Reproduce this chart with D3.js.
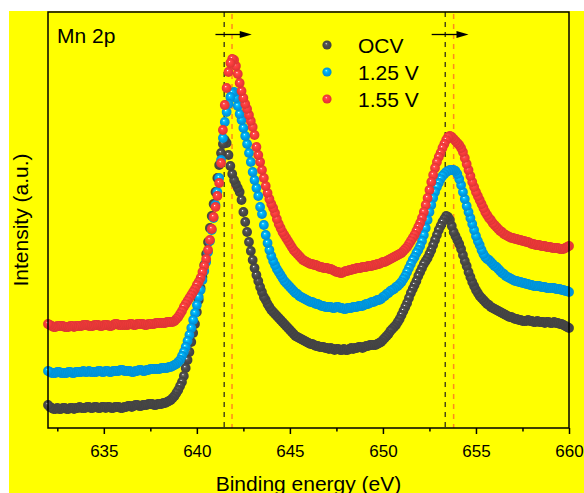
<!DOCTYPE html>
<html><head><meta charset="utf-8">
<script src="https://cdn.jsdelivr.net/npm/d3@7"></script>
<style>
html,body{margin:0;padding:0;background:#fff;}
svg{display:block;font-family:"Liberation Sans",Arial,sans-serif;}
</style></head>
<body>
<svg id="chart" width="584" height="493"></svg>
<script>
// Binding energy (eV) sampling grid
const energy = [
632.0,632.1,632.2,632.3,632.4,632.5,632.6,632.7,632.8,632.9,
633.0,633.1,633.2,633.3,633.4,633.5,633.6,633.7,633.8,633.9,
634.0,634.1,634.2,634.3,634.4,634.5,634.6,634.7,634.8,634.9,
635.0,635.1,635.2,635.3,635.4,635.5,635.6,635.7,635.8,635.9,
636.0,636.1,636.2,636.3,636.4,636.5,636.6,636.7,636.8,636.9,
637.0,637.1,637.2,637.3,637.4,637.5,637.6,637.7,637.8,637.9,
638.0,638.1,638.2,638.3,638.4,638.5,638.6,638.7,638.8,638.9,
639.0,639.1,639.2,639.3,639.4,639.5,639.6,639.7,639.8,639.9,
640.0,640.1,640.2,640.3,640.4,640.5,640.6,640.7,640.8,640.9,
641.0,641.1,641.2,641.3,641.4,641.5,641.6,641.7,641.8,641.9,
642.0,642.1,642.2,642.3,642.4,642.5,642.6,642.7,642.8,642.9,
643.0,643.1,643.2,643.3,643.4,643.5,643.6,643.7,643.8,643.9,
644.0,644.1,644.2,644.3,644.4,644.5,644.6,644.7,644.8,644.9,
645.0,645.1,645.2,645.3,645.4,645.5,645.6,645.7,645.8,645.9,
646.0,646.1,646.2,646.3,646.4,646.5,646.6,646.7,646.8,646.9,
647.0,647.1,647.2,647.3,647.4,647.5,647.6,647.7,647.8,647.9,
648.0,648.1,648.2,648.3,648.4,648.5,648.6,648.7,648.8,648.9,
649.0,649.1,649.2,649.3,649.4,649.5,649.6,649.7,649.8,649.9,
650.0,650.1,650.2,650.3,650.4,650.5,650.6,650.7,650.8,650.9,
651.0,651.1,651.2,651.3,651.4,651.5,651.6,651.7,651.8,651.9,
652.0,652.1,652.2,652.3,652.4,652.5,652.6,652.7,652.8,652.9,
653.0,653.1,653.2,653.3,653.4,653.5,653.6,653.7,653.8,653.9,
654.0,654.1,654.2,654.3,654.4,654.5,654.6,654.7,654.8,654.9,
655.0,655.1,655.2,655.3,655.4,655.5,655.6,655.7,655.8,655.9,
656.0,656.1,656.2,656.3,656.4,656.5,656.6,656.7,656.8,656.9,
657.0,657.1,657.2,657.3,657.4,657.5,657.6,657.7,657.8,657.9,
658.0,658.1,658.2,658.3,658.4,658.5,658.6,658.7,658.8,658.9,
659.0,659.1,659.2,659.3,659.4,659.5,659.6,659.7,659.8,659.9,
660.0
];

// Intensities (a.u.)
const ocv = [
23,21,20,19,19,20,19,19,20,20,
19,19,20,20,19,20,20,21,20,20,
20,21,21,20,20,21,21,20,20,21,
21,20,21,21,20,20,21,21,21,20,
20,21,21,22,22,21,22,23,23,22,
22,23,23,23,24,24,24,23,23,24,
24,24,25,25,26,27,28,30,32,35,
38,42,46,52,60,68,76,86,95,104,
116,128,140,151,163,174,186,200,212,224,
236,250,263,275,284,288,285,273,262,254,
248,244,240,236,228,216,206,196,186,177,
168,160,153,147,141,136,131,128,124,121,
118,116,114,112,110,108,106,104,102,100,
98,96,94,92,91,90,89,88,87,86,
85,84,84,83,82,82,81,81,81,80,
80,79,80,79,78,79,79,78,78,79,
78,78,79,80,79,80,80,81,81,80,
81,82,82,83,83,83,83,84,85,86,
88,90,92,94,97,99,101,103,106,109,
113,117,121,125,130,135,139,143,147,152,
156,160,164,167,170,174,178,183,188,193,
198,202,206,209,212,211,208,202,196,192,
188,184,179,173,167,162,156,151,146,142,
138,135,132,130,128,126,124,123,121,120,
119,118,117,116,115,114,113,112,111,111,
110,109,109,108,108,107,107,107,108,107,
107,106,106,107,106,106,106,105,106,106,
105,105,106,105,105,104,104,103,102,101,
100
];
const v125 = [
57,56,55,55,55,56,56,55,55,55,
55,56,56,55,55,56,56,56,56,57,
56,56,57,56,56,56,56,57,57,56,
56,57,57,56,56,57,57,57,57,58,
58,57,57,57,57,56,56,57,57,58,
58,57,57,58,58,59,59,59,59,59,
59,60,60,60,60,61,61,62,63,64,
66,68,72,76,81,87,93,100,108,115,
123,131,138,148,157,166,176,187,198,210,
223,236,250,268,290,306,316,324,331,335,
336,330,322,314,308,300,292,284,275,266,
256,248,240,232,221,214,203,193,185,178,
172,167,163,159,156,153,150,147,145,143,
141,139,137,135,134,132,131,130,129,128,
127,126,126,125,124,124,123,122,122,121,
121,121,121,120,120,121,121,120,120,119,
119,120,120,120,121,121,121,122,122,122,
123,124,124,125,126,126,127,128,128,129,
131,132,134,135,137,138,139,141,142,144,
146,149,152,156,160,164,168,171,175,178,
182,187,193,200,208,216,223,230,236,241,
245,249,252,254,256,257,258,258,258,257,
254,249,243,236,229,222,216,210,204,198,
192,187,183,178,174,171,169,168,166,164,
162,161,159,157,155,154,152,151,150,149,
148,147,147,146,146,145,145,144,144,143,
143,142,142,142,142,141,141,141,140,140,
140,140,140,139,139,139,138,138,137,137,
136
];
const v155 = [
104,103,102,101,101,102,102,102,102,101,
101,101,102,102,101,102,102,102,102,103,
103,103,102,102,102,103,103,103,102,102,
103,103,103,102,102,103,104,104,103,103,
103,103,103,103,104,104,103,103,104,104,
104,104,103,103,104,104,104,104,105,105,
105,105,105,105,106,106,106,106,107,109,
111,114,117,121,124,127,130,133,136,139,
143,146,150,156,162,169,178,188,199,211,
221,232,245,265,298,323,340,356,365,369,
368,362,354,345,337,330,324,319,313,307,
301,293,281,273,266,258,250,242,235,229,
224,220,215,209,204,200,196,193,190,187,
184,181,178,176,174,172,170,168,167,166,
165,164,164,163,163,162,161,161,160,160,
160,159,159,158,157,156,156,155,155,156,
157,157,158,158,159,159,160,160,160,161,
161,161,162,162,162,163,163,164,164,165,
166,166,167,168,169,170,171,172,173,174,
175,177,179,181,184,187,190,193,197,201,
205,210,216,223,230,238,246,253,260,266,
271,275,280,284,288,291,292,291,289,287,
285,283,280,276,270,264,258,252,246,241,
236,232,228,224,220,216,213,210,208,205,
203,201,199,197,196,194,193,192,191,190,
190,189,189,188,188,187,187,186,186,185,
184,184,183,183,183,182,182,182,181,181,
181,180,180,180,180,179,179,179,180,181,
182
];

const seriesNames = ["OCV", "1.25 V", "1.55 V"];
const seriesColors = ["#4a4a4a", "#00a2ee", "#fa3c3c"];
const seriesValues = [ocv, v125, v155];

const majorTicks = [635, 640, 645, 650, 655, 660];
const minorTicks = [632.5, 637.5, 642.5, 647.5, 652.5, 657.5];

// Peak-position markers (eV)
const refLinesOCV = [641.47, 653.35];
const refLines155 = [641.89, 653.80];
const arrowFrom = [641.0, 652.62];
const arrowTo = [642.95, 654.6];

const svg = d3.select("#chart");
const W = 584, H = 493;
const m = {left: 48, top: 12, right: 15, bottom: 65};
const pw = W - m.left - m.right, ph = H - m.top - m.bottom;

svg.append("rect").attr("x", 9).attr("y", 11).attr("width", W - 9).attr("height", H - 11).attr("fill", "#ffff00");

const x = d3.scaleLinear().domain([632, 660]).range([m.left, m.left + pw]);
const y = d3.scaleLinear().domain([0, 416]).range([m.top + ph, m.top]);

// gradients
const defs = svg.append("defs");
seriesColors.forEach((c, i) => {
  const g = defs.append("radialGradient").attr("id", "ball" + i)
    .attr("cx", "50%").attr("cy", "50%").attr("r", "55%").attr("fx", "40%").attr("fy", "34%");
  const col = d3.color(c);
  g.append("stop").attr("offset", "0%").attr("stop-color", "#ffffff");
  g.append("stop").attr("offset", "20%").attr("stop-color", col.brighter(0.6).formatHex());
  g.append("stop").attr("offset", "48%").attr("stop-color", c);
  g.append("stop").attr("offset", "100%").attr("stop-color", col.darker(0.45).formatHex());
});

// reference dashed lines
const gRef = svg.append("g");
gRef.selectAll("line.ocv").data(refLinesOCV).join("line")
  .attr("x1", d => x(d)).attr("x2", d => x(d))
  .attr("y1", m.top).attr("y2", m.top + ph)
  .attr("stroke", "#4b4b14").attr("stroke-width", 1.5).attr("stroke-dasharray", "5,5");
gRef.selectAll("line.r").data(refLines155).join("line")
  .attr("x1", d => x(d)).attr("x2", d => x(d))
  .attr("y1", m.top + 2).attr("y2", m.top + ph)
  .attr("stroke", "#ff8a1c").attr("stroke-width", 1.5).attr("stroke-dasharray", "5,5");

// data balls (drawn from high to low energy, so the low-energy balls sit on top)
seriesValues.forEach((vals, i) => {
  const pts = energy.map((e, k) => [e, vals[k]]).reverse();
  svg.append("g").selectAll("circle").data(pts).join("circle")
    .attr("cx", d => x(d[0])).attr("cy", d => y(d[1])).attr("r", 4.9)
    .attr("fill", "url(#ball" + i + ")");
});

// arrows
const ay = 34.5;
arrowFrom.forEach((a, i) => {
  const x1 = x(a), x2 = x(arrowTo[i]);
  svg.append("line").attr("x1", x1).attr("x2", x2 - 8).attr("y1", ay).attr("y2", ay)
    .attr("stroke", "#000").attr("stroke-width", 1.3);
  svg.append("path").attr("d", `M${x2},${ay} L${x2 - 12},${ay - 3.5} L${x2 - 12},${ay + 3.5} Z`).attr("fill", "#000");
});

// frame
svg.append("rect").attr("x", m.left).attr("y", m.top).attr("width", pw).attr("height", ph)
  .attr("fill", "none").attr("stroke", "#000").attr("stroke-width", 1.5);

// x axis
const xAxis = svg.append("g").attr("transform", `translate(0,${m.top + ph})`)
  .call(d3.axisBottom(x).tickValues(majorTicks).tickSize(6).tickPadding(11).tickFormat(d3.format("d")));
xAxis.select(".domain").remove();
xAxis.selectAll("line").attr("stroke-width", 1.5);
xAxis.selectAll("text").attr("font-size", 17).attr("font-family", "Liberation Sans, Arial, sans-serif").attr("fill", "#000");
const xMinor = svg.append("g").attr("transform", `translate(0,${m.top + ph})`)
  .call(d3.axisBottom(x).tickValues(minorTicks).tickSize(3.5).tickFormat(""));
xMinor.select(".domain").remove();
xMinor.selectAll("line").attr("stroke-width", 1.5);

// titles
svg.append("text").attr("x", m.left + pw / 2).attr("y", 491).attr("text-anchor", "middle")
  .attr("font-size", 21).text("Binding energy (eV)");
svg.append("text").attr("transform", `translate(28,${m.top + ph / 2}) rotate(-90)`)
  .attr("text-anchor", "middle").attr("font-size", 21).text("Intensity (a.u.)");
svg.append("text").attr("x", 57).attr("y", 43).attr("font-size", 21).text("Mn 2p");

// legend
const lg = svg.append("g");
seriesNames.forEach((n, i) => {
  const cy = 45 + i * 27;
  lg.append("circle").attr("cx", 327).attr("cy", cy).attr("r", 4.6).attr("fill", "url(#ball" + i + ")");
  lg.append("text").attr("x", 358).attr("y", cy + 7.5).attr("font-size", 21).text(n);
});
</script>
</body></html>
